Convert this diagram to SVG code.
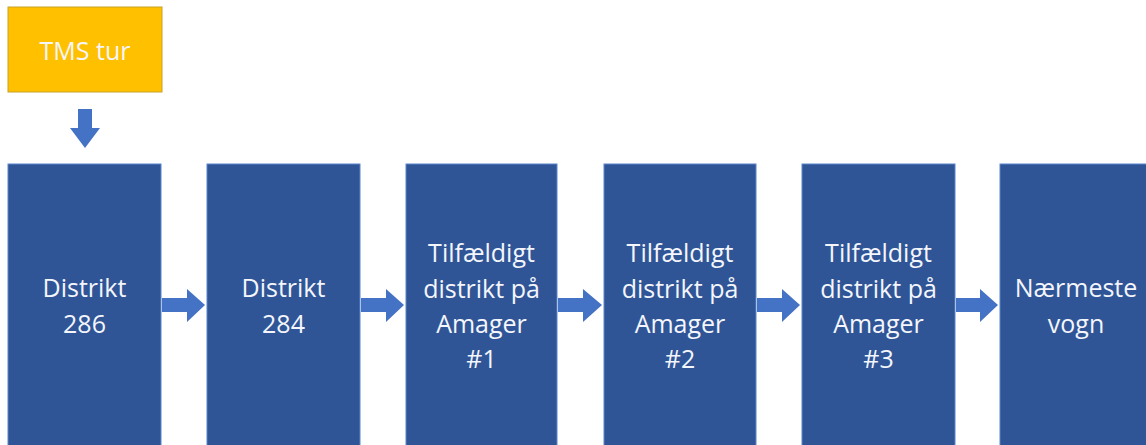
<svg xmlns="http://www.w3.org/2000/svg" width="1146" height="445" viewBox="0 0 1146 445">
<style>
.box{fill:#2F5597;stroke:#5B86CC;stroke-width:1}
.tms{fill:#FFC000;stroke:#C9A227;stroke-width:1}
.t{font-family:"Open Sans","Liberation Sans",sans-serif;font-size:25px;fill:#F4F6FB;text-anchor:middle}
.arr{fill:#4472C4}
</style>
<rect width="1146" height="445" fill="#FFFFFF"/>
<g id="tms"><rect class="tms" x="8" y="7" width="154" height="85"/><text class="t" x="85" y="60">TMS tur</text></g>
<g id="n1"><rect class="box" x="8" y="164" width="153" height="290"/><text class="t" x="84.5" y="297">Distrikt</text><text class="t" x="84.5" y="333">286</text></g>
<g id="n2"><rect class="box" x="207" y="164" width="153" height="290"/><text class="t" x="283.5" y="297">Distrikt</text><text class="t" x="283.5" y="333">284</text></g>
<g id="n3"><rect class="box" x="406" y="164" width="151" height="290"/><text class="t" x="481.5" y="262">Tilfældigt</text><text class="t" x="481.5" y="298">distrikt på</text><text class="t" x="481.5" y="333">Amager</text><text class="t" x="481.5" y="368">#1</text></g>
<g id="n4"><rect class="box" x="604" y="164" width="152" height="290"/><text class="t" x="680" y="262">Tilfældigt</text><text class="t" x="680" y="298">distrikt på</text><text class="t" x="680" y="333">Amager</text><text class="t" x="680" y="368">#2</text></g>
<g id="n5"><rect class="box" x="802" y="164" width="153" height="290"/><text class="t" x="878.5" y="262">Tilfældigt</text><text class="t" x="878.5" y="298">distrikt på</text><text class="t" x="878.5" y="333">Amager</text><text class="t" x="878.5" y="368">#3</text></g>
<g id="n6"><rect class="box" x="1000" y="164" width="160" height="290"/><text class="t" x="1076" y="297">Nærmeste</text><text class="t" x="1076" y="333">vogn</text></g>
<g id="connectors">
<polygon class="arr" points="78,109 92,109 92,128 100,128 85,148 70,128 78,128"/>
<polygon class="arr" points="162,298 187,298 187,289 205,305 187,322 187,312 162,312"/>
<polygon class="arr" points="361,298 386,298 386,289 404,305 386,322 386,312 361,312"/>
<polygon class="arr" points="558,298 583,298 583,289 602,305 583,322 583,312 558,312"/>
<polygon class="arr" points="757,298 782,298 782,289 800,305 782,322 782,312 757,312"/>
<polygon class="arr" points="956,298 980,298 980,289 998,305 980,322 980,312 956,312"/>
</g>
</svg>
